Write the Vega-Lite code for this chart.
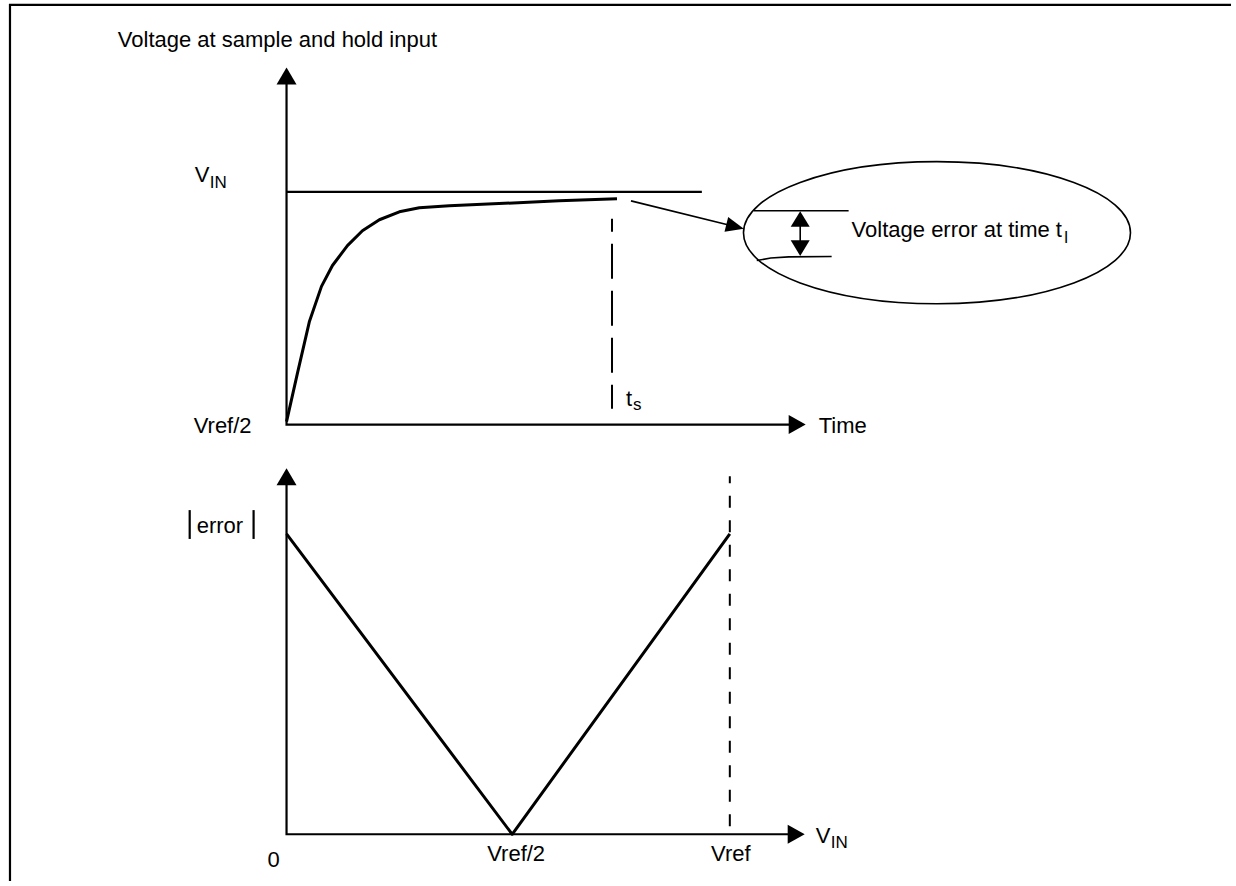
{
  "$schema": "https://vega.github.io/schema/vega-lite/v6.json",
  "width": 1236,
  "height": 886,
  "autosize": {"type": "fit", "contains": "padding"},
  "padding": 0,
  "background": "white",
  "config": {"view": {"stroke": null}, "text": {"font": "Liberation Sans", "color": "black"}},
  "datasets": {
    "lines": [
      {"id": "frame", "k": "axis", "o": 1, "x": 1233, "y": 5},
      {"id": "frame", "k": "axis", "o": 2, "x": 10, "y": 5},
      {"id": "frame", "k": "axis", "o": 3, "x": 10, "y": 886},
      {"id": "topAxis", "k": "axis", "o": 1, "x": 287, "y": 80},
      {"id": "topAxis", "k": "axis", "o": 2, "x": 287, "y": 427},
      {"id": "topAxis", "k": "axis", "o": 3, "x": 792, "y": 427},
      {"id": "botAxis", "k": "axis", "o": 1, "x": 287, "y": 484},
      {"id": "botAxis", "k": "axis", "o": 2, "x": 287, "y": 839},
      {"id": "botAxis", "k": "axis", "o": 3, "x": 792, "y": 839},
      {"id": "vin", "k": "axis", "o": 1, "x": 287, "y": 193},
      {"id": "vin", "k": "axis", "o": 2, "x": 703, "y": 193},
      {"id": "errL", "k": "axis", "o": 1, "x": 190, "y": 513},
      {"id": "errL", "k": "axis", "o": 2, "x": 190, "y": 542},
      {"id": "errR", "k": "axis", "o": 1, "x": 254, "y": 513},
      {"id": "errR", "k": "axis", "o": 2, "x": 254, "y": 542},
      {"id": "curve", "k": "thick", "o": 1, "x": 287, "y": 424},
      {"id": "curve", "k": "thick", "o": 2, "x": 298, "y": 375},
      {"id": "curve", "k": "thick", "o": 3, "x": 310, "y": 323},
      {"id": "curve", "k": "thick", "o": 4, "x": 322, "y": 288},
      {"id": "curve", "k": "thick", "o": 5, "x": 333, "y": 267},
      {"id": "curve", "k": "thick", "o": 6, "x": 348, "y": 247},
      {"id": "curve", "k": "thick", "o": 7, "x": 363, "y": 232},
      {"id": "curve", "k": "thick", "o": 8, "x": 380, "y": 221},
      {"id": "curve", "k": "thick", "o": 9, "x": 400, "y": 213},
      {"id": "curve", "k": "thick", "o": 10, "x": 420, "y": 209},
      {"id": "curve", "k": "thick", "o": 11, "x": 450, "y": 207},
      {"id": "curve", "k": "thick", "o": 12, "x": 560, "y": 202},
      {"id": "curve", "k": "thick", "o": 13, "x": 618, "y": 200},
      {"id": "vshape", "k": "thick", "o": 1, "x": 287, "y": 537},
      {"id": "vshape", "k": "thick", "o": 2, "x": 513, "y": 839},
      {"id": "vshape", "k": "thick", "o": 3, "x": 731, "y": 537},
      {"id": "pointer", "k": "thin", "o": 1, "x": 632, "y": 202},
      {"id": "pointer", "k": "thin", "o": 2, "x": 737, "y": 228},
      {"id": "upTick", "k": "thin", "o": 1, "x": 755, "y": 212},
      {"id": "upTick", "k": "thin", "o": 2, "x": 850, "y": 212},
      {"id": "lowTick", "k": "thin", "o": 1, "x": 758, "y": 262},
      {"id": "lowTick", "k": "thin", "o": 2, "x": 772, "y": 259.5},
      {"id": "lowTick", "k": "thin", "o": 3, "x": 790, "y": 258.3},
      {"id": "lowTick", "k": "thin", "o": 4, "x": 833, "y": 258},
      {"id": "shaft", "k": "thin", "o": 1, "x": 801.5, "y": 222},
      {"id": "shaft", "k": "thin", "o": 2, "x": 801.5, "y": 248},
      {"id": "ts", "k": "dashA", "o": 1, "x": 613, "y": 220},
      {"id": "ts", "k": "dashA", "o": 2, "x": 613, "y": 411},
      {"id": "vref", "k": "dashB", "o": 1, "x": 731, "y": 479},
      {"id": "vref", "k": "dashB", "o": 2, "x": 731, "y": 839}
    ],
    "labels": [
      {"t": "Voltage at sample and hold input", "k": "left", "x": 118, "y": 47},
      {"t": "V", "k": "left", "x": 195, "y": 183},
      {"t": "Time", "k": "left", "x": 820, "y": 435},
      {"t": "t", "k": "left", "x": 627, "y": 408},
      {"t": "Voltage error at time t", "k": "left", "x": 853, "y": 238},
      {"t": "error", "k": "left", "x": 197, "y": 536},
      {"t": "V", "k": "left", "x": 817, "y": 848},
      {"t": "Vref/2", "k": "right", "x": 252, "y": 435},
      {"t": "0", "k": "center", "x": 274, "y": 872},
      {"t": "Vref/2", "k": "center", "x": 517, "y": 866},
      {"t": "Vref", "k": "center", "x": 732, "y": 866},
      {"t": "IN", "k": "sub", "x": 210, "y": 189},
      {"t": "s", "k": "sub", "x": 634, "y": 412},
      {"t": "l", "k": "sub", "x": 1066, "y": 244},
      {"t": "IN", "k": "sub", "x": 832, "y": 853}
    ],
    "marks": [
      {"k": "ellipse", "x": 938.5, "y": 234},
      {"k": "up", "x": 287, "y": 76.5},
      {"k": "up", "x": 287, "y": 479.5},
      {"k": "right", "x": 798.5, "y": 427},
      {"k": "right", "x": 797.5, "y": 839},
      {"k": "sup", "x": 801.5, "y": 220.3},
      {"k": "sdown", "x": 801.5, "y": 249.5},
      {"k": "pointer", "x": 735.3, "y": 227.6}
    ]
  },
  "encoding": {
    "x": {"field": "x", "type": "quantitative", "scale": {"domain": [0, 1236], "nice": false, "zero": false}, "axis": null},
    "y": {"field": "y", "type": "quantitative", "scale": {"domain": [0, 886], "reverse": true, "nice": false, "zero": false}, "axis": null}
  },
  "layer": [
    {
      "data": {"name": "lines"},
      "transform": [{"filter": "datum.k === 'axis'"}],
      "mark": {"type": "line", "color": "black", "strokeWidth": 2.2, "strokeCap": "butt", "strokeJoin": "miter"},
      "encoding": {"detail": {"field": "id"}, "order": {"field": "o", "type": "quantitative"}}
    },
    {
      "data": {"name": "lines"},
      "transform": [{"filter": "datum.k === 'thick'"}],
      "mark": {"type": "line", "color": "black", "strokeWidth": 3, "strokeCap": "butt", "strokeJoin": "round"},
      "encoding": {"detail": {"field": "id"}, "order": {"field": "o", "type": "quantitative"}}
    },
    {
      "data": {"name": "lines"},
      "transform": [{"filter": "datum.k === 'thin'"}],
      "mark": {"type": "line", "color": "black", "strokeWidth": 1.6, "strokeCap": "butt", "strokeJoin": "round"},
      "encoding": {"detail": {"field": "id"}, "order": {"field": "o", "type": "quantitative"}}
    },
    {
      "data": {"name": "lines"},
      "transform": [{"filter": "datum.k === 'dashA'"}],
      "mark": {"type": "line", "color": "black", "strokeWidth": 2, "strokeCap": "butt", "strokeDash": [35, 12], "strokeDashOffset": 22},
      "encoding": {"detail": {"field": "id"}, "order": {"field": "o", "type": "quantitative"}}
    },
    {
      "data": {"name": "lines"},
      "transform": [{"filter": "datum.k === 'dashB'"}],
      "mark": {"type": "line", "color": "black", "strokeWidth": 2, "strokeCap": "butt", "strokeDash": [12, 12.5], "strokeDashOffset": 5},
      "encoding": {"detail": {"field": "id"}, "order": {"field": "o", "type": "quantitative"}}
    },
    {
      "data": {"name": "marks"},
      "transform": [{"filter": "datum.k === 'ellipse'"}],
      "mark": {"type": "point", "filled": false, "stroke": "black", "strokeWidth": 1.6, "opacity": 1, "size": 149769,
        "shape": "M-1,0C-1,-0.2027,-0.5523,-0.367,0,-0.367C0.5523,-0.367,1,-0.2027,1,0C1,0.2027,0.5523,0.367,0,0.367C-0.5523,0.367,-1,0.2027,-1,0Z"}
    },
    {
      "data": {"name": "marks"},
      "transform": [{"filter": "datum.k === 'up'"}],
      "mark": {"type": "point", "filled": true, "fill": "black", "strokeWidth": 0, "opacity": 1, "size": 400, "shape": "M0,-0.85L1,0.85L-1,0.85Z"}
    },
    {
      "data": {"name": "marks"},
      "transform": [{"filter": "datum.k === 'right'"}],
      "mark": {"type": "point", "filled": true, "fill": "black", "strokeWidth": 0, "opacity": 1, "size": 400, "shape": "M0.85,0L-0.85,0.95L-0.85,-0.95Z"}
    },
    {
      "data": {"name": "marks"},
      "transform": [{"filter": "datum.k === 'sup'"}],
      "mark": {"type": "point", "filled": true, "fill": "black", "strokeWidth": 0, "opacity": 1, "size": 400, "shape": "M0,-0.78L0.95,0.78L-0.95,0.78Z"}
    },
    {
      "data": {"name": "marks"},
      "transform": [{"filter": "datum.k === 'sdown'"}],
      "mark": {"type": "point", "filled": true, "fill": "black", "strokeWidth": 0, "opacity": 1, "size": 400, "shape": "M0,0.78L0.95,-0.78L-0.95,-0.78Z"}
    },
    {
      "data": {"name": "marks"},
      "transform": [{"filter": "datum.k === 'pointer'"}],
      "mark": {"type": "point", "filled": true, "fill": "black", "strokeWidth": 0, "opacity": 1, "size": 400, "angle": 14, "shape": "M1,0L-0.8,0.75L-0.8,-0.75Z"}
    },
    {
      "data": {"name": "labels"},
      "transform": [{"filter": "datum.k === 'left'"}],
      "mark": {"type": "text", "align": "left", "baseline": "alphabetic", "fontSize": 22},
      "encoding": {"text": {"field": "t"}}
    },
    {
      "data": {"name": "labels"},
      "transform": [{"filter": "datum.k === 'right'"}],
      "mark": {"type": "text", "align": "right", "baseline": "alphabetic", "fontSize": 22},
      "encoding": {"text": {"field": "t"}}
    },
    {
      "data": {"name": "labels"},
      "transform": [{"filter": "datum.k === 'center'"}],
      "mark": {"type": "text", "align": "center", "baseline": "alphabetic", "fontSize": 22},
      "encoding": {"text": {"field": "t"}}
    },
    {
      "data": {"name": "labels"},
      "transform": [{"filter": "datum.k === 'sub'"}],
      "mark": {"type": "text", "align": "left", "baseline": "alphabetic", "fontSize": 17},
      "encoding": {"text": {"field": "t"}}
    }
  ]
}
